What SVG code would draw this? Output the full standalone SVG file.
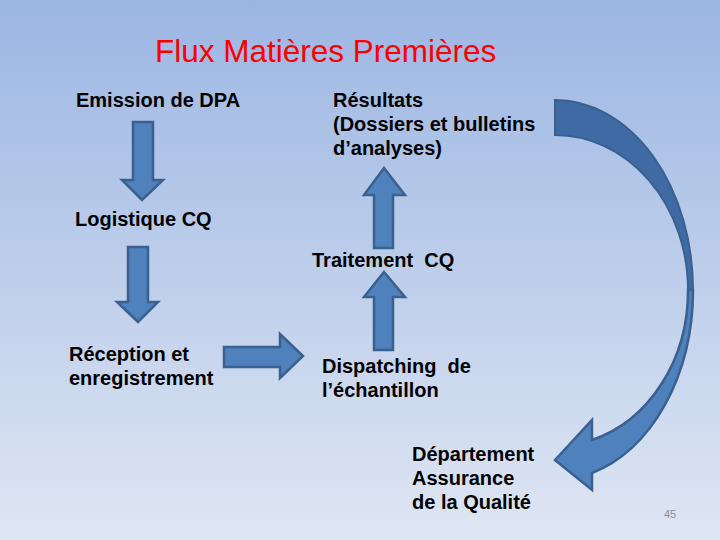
<svg xmlns="http://www.w3.org/2000/svg" width="720" height="540" viewBox="0 0 720 540">
<defs>
<linearGradient id="bg" x1="0" y1="0" x2="0" y2="1">
<stop offset="0" stop-color="#9CB6E3"/>
<stop offset="1" stop-color="#DFE6F3"/>
</linearGradient>
<style>
.lbl{font-family:"Liberation Sans",Arial,sans-serif;font-weight:bold;font-size:20px;fill:#000;white-space:pre}
.arr{fill:#4F81BD;stroke:#3A6090;stroke-width:2.5;stroke-linejoin:miter}
.back{fill:#3F6AA3;stroke:#3A6090;stroke-width:2}
</style>
</defs>
<rect width="720" height="540" fill="url(#bg)"/>
<text x="155" y="62" font-family="Liberation Sans,Arial,sans-serif" font-size="31.5" fill="#FF0000">Flux Matières Premières</text>

<g id="connectors">
<path class="arr" d="M133,122 L153,122 L153,180 L163,180 L142,200 L122,180 L133,180 Z"/>
<path class="arr" d="M128,247 L148,247 L148,302 L158,302 L138,322 L117,302 L128,302 Z"/>
<path class="arr" d="M374,248 L393,248 L393,195 L405,195 L384,168 L364,195 L374,195 Z"/>
<path class="arr" d="M374,350 L393,350 L393,297 L405,297 L384,272 L364,297 L374,297 Z"/>
<path class="arr" d="M224,347 L280,347 L280,334 L303,356 L280,378 L280,367 L224,367 Z"/>
<path class="back" d="M555,100 A138,190 0 0 1 693,290 L688,290 A133,155 0 0 0 555,135 Z"/>
<path class="arr" d="M693,290 A138,190 0 0 1 592,473 L592,490 L555,460 L592,420 L592,440 A133,155 0 0 0 688,290 Z"/>
</g>

<g id="n-emission"><text class="lbl" x="76" y="107">Emission de DPA</text></g>
<g id="n-resultats"><text class="lbl" x="333" y="107">Résultats</text><text class="lbl" x="333" y="131">(Dossiers et bulletins</text><text class="lbl" x="333" y="155">d’analyses)</text></g>
<g id="n-logistique"><text class="lbl" x="75" y="226">Logistique CQ</text></g>
<g id="n-traitement"><text class="lbl" x="312" y="267">Traitement  CQ</text></g>
<g id="n-reception"><text class="lbl" x="69" y="361">Réception et</text><text class="lbl" x="69" y="385">enregistrement</text></g>
<g id="n-dispatching"><text class="lbl" x="322" y="373">Dispatching  de</text><text class="lbl" x="322" y="397">l’échantillon</text></g>
<g id="n-departement"><text class="lbl" x="412" y="461">Département</text><text class="lbl" x="412" y="485">Assurance</text><text class="lbl" x="412" y="509">de la Qualité</text></g>
<text x="664" y="518" font-family="Liberation Sans,Arial,sans-serif" font-size="11" fill="#8C8C8C">45</text>
</svg>
